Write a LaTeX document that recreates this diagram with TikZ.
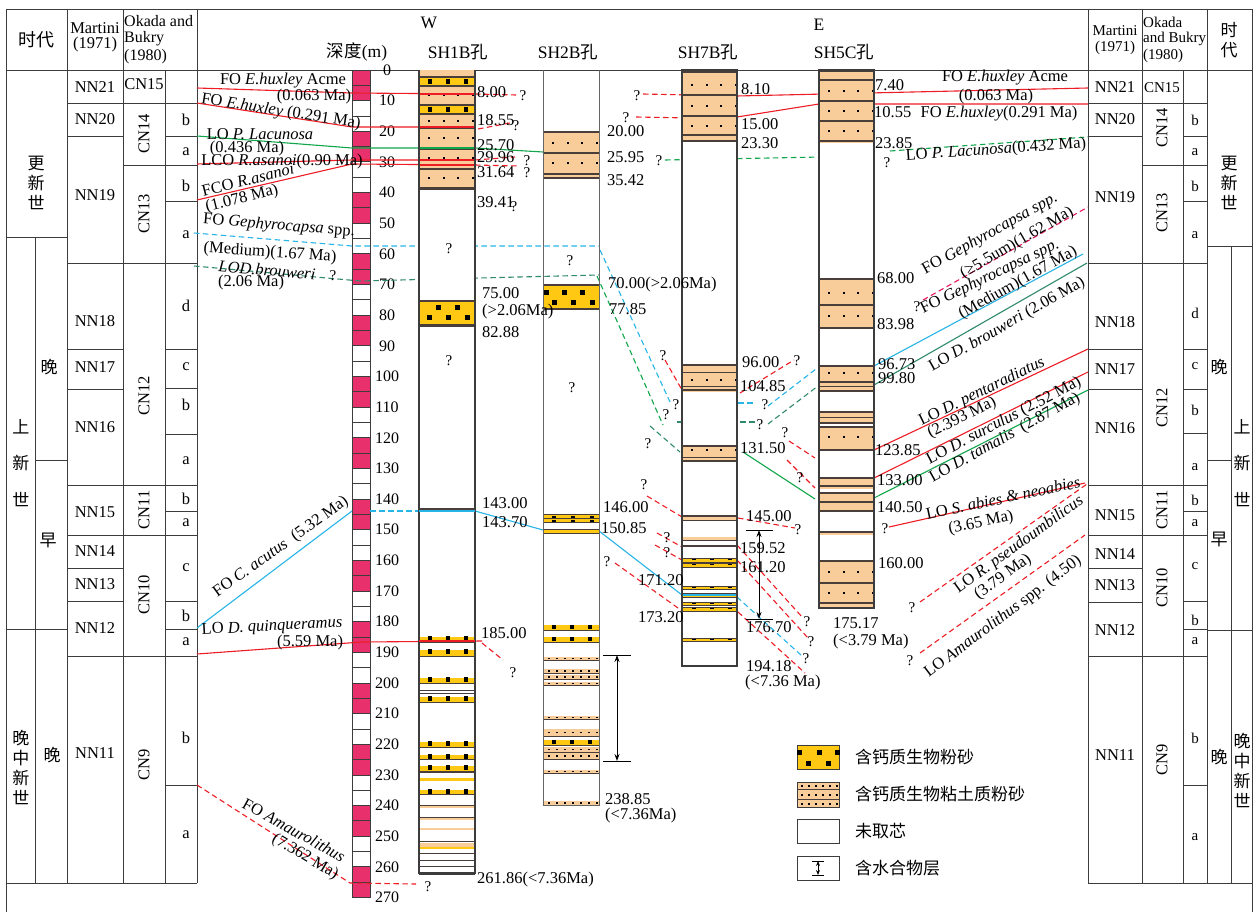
\documentclass[tikz,border=0pt]{standalone}
\usepackage{fontspec}
\setmainfont{Liberation Serif}
\newfontfamily\cjk{Noto Sans CJK SC}
\usetikzlibrary{arrows.meta}
\definecolor{lred}{HTML}{EE1D25}
\definecolor{lgreen}{HTML}{10A64A}
\definecolor{lteal}{HTML}{2F8A6C}
\definecolor{lcyan}{HTML}{27B4E6}
\definecolor{lpink}{HTML}{E8306C}
\definecolor{lcrim}{HTML}{E8185E}
\definecolor{ltan}{HTML}{F9CD9A}
\definecolor{lyel}{HTML}{FFC813}
\definecolor{lgrid}{HTML}{3C3C3C}
\definecolor{lband}{HTML}{4A3E3A}
\newcommand\fA{\fontsize{16.5}{18}\selectfont}
\newcommand\fB{\fontsize{15}{17}\selectfont}
\newcommand\fH{\fontsize{17.5}{19}\selectfont}
\newcommand\fZ{\cjk\fontsize{17}{20}\selectfont}
\newcommand\tanB[4]{\fill[ltan] (#1,#3) rectangle (#2,#4);}
\newcommand\yelB[4]{\fill[lyel] (#1,#3) rectangle (#2,#4);}
\newcommand\bandL[3]{\draw[bline] (#1,#3) -- (#2,#3);}
\newcommand\thinL[3]{\draw[tline] (#1,#3) -- (#2,#3);}
\newcommand\tanD[2]{\foreach \k in {0,1,2,3}{\fill ({#1+9+\k*14.5},{#2-1.2}) rectangle ++(2.4,2.4);}}
\newcommand\yelS[2]{\foreach \k in {0,1,2}{\fill ({#1+9+\k*18},{#2-2.2}) rectangle ++(4.4,4.4);}}
\begin{document}
\begin{tikzpicture}[x=1pt,y=-1pt,
  grid/.style={draw=lgrid,line width=0.9pt},
  bline/.style={draw=lband,line width=2pt},
  tline/.style={draw=lband,line width=1pt},
  t/.style={font=\fA,inner sep=0pt},
  tw/.style={font=\fA,inner sep=0pt,anchor=west},
  zh/.style={font=\fZ,inner sep=0pt},
  core/.style={draw=lgrid,line width=1.8pt},
  rl/.style={draw=lred,line width=1.1pt},
  rd/.style={draw=lred,line width=1.1pt,dash pattern=on 5.5pt off 3.5pt},
  gl/.style={draw=lgreen,line width=1.1pt},
  gd/.style={draw=lgreen,line width=1.1pt,dash pattern=on 5.5pt off 3.5pt},
  tl/.style={draw=lteal,line width=1.1pt},
  td/.style={draw=lteal,line width=1.1pt,dash pattern=on 5.5pt off 3.5pt},
  cl/.style={draw=lcyan,line width=1.1pt},
  cd/.style={draw=lcyan,line width=1.1pt,dash pattern=on 5.5pt off 3.5pt},
  kd/.style={draw=lcrim,line width=1.1pt,dash pattern=on 5.5pt off 3.5pt},
  hyd/.style={draw=black,line width=1pt,{Stealth[length=7pt,width=5pt]}-{Stealth[length=7pt,width=5pt]}}
]
\useasboundingbox (0,0) rectangle (1260,912);
\fill[white] (0,0) rectangle (1260,912);

% ---------- frame and zone columns ----------
\draw[grid] (6,9) -- (1252,9);
\draw[grid] (6,70) -- (1252,70);
\draw[grid] (6,9) -- (6,912);
\draw[grid] (1252,9) -- (1252,912);
\foreach \x in {67,123,197,1088,1142,1207} \draw[grid] (\x,9) -- (\x,883);
\draw[grid] (165,70) -- (165,883);
\draw[grid] (1183,70) -- (1183,883);
\draw[grid] (35,237) -- (35,883);
\draw[grid] (1231,246) -- (1231,883);
\draw[grid] (6,883) -- (197,883);
\draw[grid] (1088,883) -- (1252,883);
\draw[grid] (6,237) -- (67,237);
\draw[grid] (35,460) -- (67,460);
\draw[grid] (6,629) -- (67,629);
\foreach \y in {103,136,263,349,389,485,535,568,601,656} \draw[grid] (67,\y) -- (123,\y);
\foreach \y in {103,165,263,485,535,656} \draw[grid] (123,\y) -- (165,\y);
\foreach \y in {103,136,165,201,263,349,388,434,485,511,535,601,629,656,785} \draw[grid] (165,\y) -- (197,\y);
\foreach \y in {103,136,263,349,389,485,535,568,602,656} \draw[grid] (1088,\y) -- (1142,\y);
\foreach \y in {103,165,263,485,535,656} \draw[grid] (1142,\y) -- (1183,\y);
\foreach \y in {103,136,165,201,263,349,389,433,485,511,535,601,629,656,785} \draw[grid] (1183,\y) -- (1207,\y);
\draw[grid] (1207,246) -- (1252,246);
\draw[grid] (1207,460) -- (1231,460);
\draw[grid] (1207,630) -- (1252,630);

% ---------- header texts ----------
\node[zh,font=\cjk\fontsize{18}{20}\selectfont] (hL) at (36,40) {时代};
\node[t] (mL1) at (95,28) {Martini};
\node[t] (mL2) at (95,45) {(1971)};
\node[tw,font=\fontsize{16}{18}\selectfont] (oL1) at (124,21) {Okada and};
\node[tw,font=\fontsize{16}{18}\selectfont] (oL2) at (124,39) {Bukry};
\node[tw,font=\fontsize{16}{18}\selectfont] (oL3) at (124,57) {(1980)};
\node[t,font=\fB] (mR1) at (1115,31) {Martini};
\node[t,font=\fB] (mR2) at (1115,48) {(1971)};
\node[tw,font=\fB] (oR1) at (1143,22) {Okada};
\node[tw,font=\fB] (oR2) at (1143,39) {and Bukry};
\node[tw,font=\fB] (oR3) at (1143,56) {(1980)};
\node[zh] (hR1) at (1229,30) {时};
\node[zh] (hR2) at (1229,50) {代};
\node[t,font=\fH] (hW) at (429,23) {W};
\node[t,font=\fH] (hE) at (819,25) {E};
\node[t,font=\fH] (hD) at (357,52) {{\cjk 深度}(m)};
\node[t,font=\fH] (h1) at (458,52) {SH1B{\cjk 孔}};
\node[t,font=\fH] (h2) at (568,52) {SH2B{\cjk 孔}};
\node[t,font=\fH] (h7) at (708,52) {SH7B{\cjk 孔}};
\node[t,font=\fH] (h5) at (844,52) {SH5C{\cjk 孔}};

% ---------- epoch labels ----------
\node[zh,align=center,font=\cjk\fontsize{17}{20}\selectfont] (eL1) at (36,183) {更\\新\\世};
\node[zh] at (21,427) {上};
\node[zh] at (21,463) {新};
\node[zh] at (21,500) {世};
\node[zh] (eL3) at (49,367) {晚};
\node[zh] (eL4) at (48,540) {早};
\node[zh,align=center,font=\cjk\fontsize{17}{20}\selectfont] (eL5) at (21,767) {晚\\中\\新\\世};
\node[zh] (eL6) at (52,755) {晚};
\node[zh,align=center,font=\cjk\fontsize{17}{20}\selectfont] (eR1) at (1229,183) {更\\新\\世};
\node[zh] at (1242,427) {上};
\node[zh] at (1242,463) {新};
\node[zh] at (1242,500) {世};
\node[zh] (eR3) at (1219,367) {晚};
\node[zh] (eR4) at (1219,539) {早};
\node[zh,align=center,font=\cjk\fontsize{17}{20}\selectfont] (eR5) at (1242,770) {晚\\中\\新\\世};
\node[zh] (eR6) at (1219,757) {晚};

% ---------- zone labels ----------
\foreach \n/\y in {NN21/87,NN20/119,NN19/195,NN18/321,NN17/367,NN16/427,NN15/512,NN14/551,NN13/584,NN12/628,NN11/753}
  \node[t] at (95,\y) {\n};
\foreach \n/\y in {NN21/87,NN20/119,NN19/197,NN18/322,NN17/369,NN16/428,NN15/515,NN14/554,NN13/585,NN12/630,NN11/755}
  \node[t] at (1115,\y) {\n};
\node[t] at (144,84) {CN15};
\node[t,font=\fB] at (1162,88) {CN15};
\foreach \n/\y in {CN14/134,CN13/214,CN12/396,CN11/510,CN10/595,CN9/765}
  \node[t,rotate=90] at (144,\y) {\n};
\foreach \n/\y in {CN14/128,CN13/213,CN12/408,CN11/510,CN10/588,CN9/760}
  \node[t,rotate=90] at (1162,\y) {\n};
\foreach \n/\y in {b/120,a/152,b/186,a/235,d/306,c/367,b/405,a/461,b/499,a/523,c/568,b/616,a/642,b/738,a/835}
  \node[t] at (186,\y) {\n};
\foreach \n/\y in {b/120,a/152,b/186,a/235,d/313,c/366,b/410,a/467,b/500,a/523,c/566,b/620,a/641,b/738,a/837}
  \node[t,font=\fB] at (1195,\y) {\n};

% ---------- depth scale ----------
\foreach \d in {0,5,...,265}{
  \pgfmathtruncatemacro\qq{mod(floor(\d/10),2)}
  \ifnum\qq=0 \def\colq{lpink}\else\def\colq{white}\fi
  \filldraw[fill=\colq,draw=lgrid,line width=0.9pt] (352,{70+\d*3.065}) rectangle (370,{70+(\d+5)*3.065});
}
\foreach \d in {0,10,...,270} \node[t,font=\fontsize{16}{18}\selectfont] at (387,{70+\d*3.065}) {\d};

% ---------- correlation lines (under cores) ----------
% FO E.huxley Acme
\draw[rl] (197,88) -- (352,93) -- (475,94);
\draw[rd] (475,94) -- (516,95);
\draw[rd] (643,94) -- (690,95);
\draw[rl] (737,96) -- (1088,88);
% FO E.huxley
\draw[rl] (197,103) -- (352,127) -- (475,127);
\draw[rd] (478,129) -- (510,123);
\draw[rd] (636,117) -- (690,118);
\draw[rl] (737,117) -- (819,104) -- (1088,104);
% LO P. lacunosa
\draw[gl] (197,136) -- (352,148) -- (475,148) -- (543,152);
\draw[gd] (665,160) -- (874,156);
\draw[gd] (890,151) -- (1088,137);
% LCO / FCO R. asanoi
\draw[rl] (197,164) -- (352,160) -- (475,160);
\draw[rd] (475,160) -- (515,157);
\draw[rl] (197,200) -- (352,164) -- (475,165);
\draw[rd] (475,165) -- (518,166);
% FO Gephyrocapsa medium
\draw[cd] (194,233) -- (352,246) -- (599,246);
\draw[cd] (600,250) -- (670,402);
\draw[cd] (684,403) -- (755,403);
\draw[cd] (768,406) -- (816,369);
\draw[cl] (874,366) -- (1083,254);
% FO Gephyrocapsa >=5.5
\draw[kd] (923,300) -- (1088,207);
% LO D. brouweri
\draw[td] (194,266) -- (360,281) -- (599,275);
\draw[gd] (597,276) -- (663,425);
\draw[td] (677,422) -- (756,422);
\draw[td] (768,424) -- (818,386);
\draw[tl] (874,385) -- (1087,263);
\draw[td] (650,426) -- (680,452);
% tamalis
\draw[gl] (743,452) -- (815,499);
\draw[gl] (874,498) -- (1088,390);
% pentaradiatus
\draw[rd] (789,441) -- (815,458);
\draw[rl] (874,450) -- (1088,349);
% surculus
\draw[rd] (787,460) -- (815,488);
\draw[rl] (874,478) -- (1088,372);
% abies
\draw[rl] (889,527) -- (1085,483);
\draw[rd] (920,602) -- (1087,484);
\draw[rd] (920,653) -- (1085,535);
% misc SH7B
\draw[rd] (740,393) -- (794,360);
\draw[rd] (665,360) -- (682,390);
\draw[rd] (647,496) -- (682,517);
\draw[rd] (738,518) -- (795,528);
\draw[rd] (657,533) -- (682,547);
\draw[rd] (655,545) -- (682,560);
\draw[rd] (737,545) -- (803,618);
\draw[rd] (737,560) -- (808,638);
\draw[cd] (737,597) -- (802,656);
\draw[rd] (738,612) -- (805,673);
\draw[rd] (615,563) -- (685,613);
% acutus
\draw[cl] (197,628) -- (352,511);
\draw[cd] (370,511) -- (419,511);
\draw[cl] (419,511) -- (475,511) -- (543,530) -- (599,531) -- (682,595) -- (737,595);
% quinqueramus
\draw[rl] (197,654) -- (362,642) -- (482,641);
\draw[rd] (482,643) -- (503,660);
% FO Amaurolithus
\draw[rd] (197,785) -- (350,883) -- (416,884);

% ---------- SH1B ----------
\fill[white] (419,190) rectangle (475,873);
\tanB{419}{475}{70}{190}
\yelB{419}{475}{78}{85} \yelS{419}{81.5}
\yelB{419}{475}{106}{113} \yelS{419}{109.5}
\foreach \y in {77,86,105,114,128,149,169} {\bandL{419}{475}{\y}}
\draw[draw=lband,line width=3pt] (419,189) -- (475,189);
\tanD{419}{95} \tanD{419}{121} \tanD{419}{138} \tanD{419}{158} \tanD{419}{178}
\draw[gl] (419,148) -- (475,148);
\draw[rl] (419,94) -- (475,94); \draw[rl] (419,127) -- (475,127);
\draw[rl] (419,160) -- (475,160); \draw[rl] (419,165) -- (475,165);
\yelB{419}{475}{301}{325}
\bandL{419}{475}{301} \draw[draw=lband,line width=3pt] (419,325) -- (475,325);
\foreach \x in {436,455} \fill (\x,305) rectangle ++(4.5,4.5);
\foreach \x in {427,446,465} \fill (\x,315) rectangle ++(4.5,4.5);
\tanB{419}{475}{509}{512} \bandL{419}{475}{509}
\foreach \a/\b in {637/642,650/656,678/683,697/702,742/747,755/759,766/771,790/794} {
  \yelB{419}{475}{\a}{\b} \thinL{419}{475}{\b} \yelS{419}{\a+1.5}}
\yelB{419}{475}{778}{781}
\foreach \a/\b in {806/808,818/820,828/830,843/847} {\tanB{419}{475}{\a}{\b}}
\yelB{419}{475}{847}{849}
\foreach \y in {690,693,772,805,817,841,853,860,866} {\thinL{419}{475}{\y}}
\draw[draw=lgrid,line width=3pt] (419,873) -- (475,873);
\draw[core] (419,70) -- (419,874);
\draw[core] (475,70) -- (475,874);
\draw[rl] (419,641) -- (475,641);
\draw[cl] (419,511) -- (475,511);

% ---------- SH2B ----------
\tanB{543}{599}{131}{179}
\foreach \y in {132,153,174} {\bandL{543}{599}{\y}}
\draw[bline] (543,178) -- (599,178);
\tanD{543}{143} \tanD{543}{163}
\yelB{543}{599}{285}{309} \bandL{543}{599}{285} \bandL{543}{599}{309}
\foreach \x in {544,562,580} \fill (\x,290) rectangle ++(4.5,4.5);
\foreach \x in {552,571,590} \fill (\x,300) rectangle ++(4.5,4.5);
\yelB{543}{599}{514}{522} \yelB{543}{599}{529}{533}
\foreach \y in {514,518,522,529,533} {\thinL{543}{599}{\y}}
\foreach \x in {552,571,590} {\fill (\x,516) rectangle ++(4,1.6); \fill (\x,520) rectangle ++(4,1.6);}
\foreach \a/\b in {625/630,637/642,740/745} {\yelB{543}{599}{\a}{\b} \thinL{543}{599}{\b} \yelS{543}{\a+1.8}}
\foreach \a/\b in {657/660,669/673,675/679,682/685,716/719,729/736,747/752,753/759,770/773,801/805} {
  \tanB{543}{599}{\a}{\b} \draw[draw=lband,line width=0.6pt] (543,\b) -- (599,\b);
  \foreach \x in {548,556,...,596} \fill (\x,{(\a+\b)/2-0.6}) rectangle ++(1.5,1.5);}
\draw[draw=gray!80!black,line width=1pt] (543,70) -- (543,805) -- (599,805) -- (599,70);
\draw[hyd] (617,655) -- (617,761);
\draw[line width=1pt] (603,655) -- (631,655);
\draw[line width=1pt] (603,761) -- (631,761);

% ---------- SH7B ----------
\fill[white] (682,142) rectangle (737,666);
\tanB{682}{737}{70}{142}
\foreach \y in {72,95,116,135,141} {\bandL{682}{737}{\y}}
\tanD{682}{85} \tanD{682}{106} \tanD{682}{126}
\tanB{682}{737}{364}{392}
\foreach \y in {365,390} {\bandL{682}{737}{\y}} \thinL{682}{737}{372} \thinL{682}{737}{386}
\tanD{682}{380}
\tanB{682}{737}{446}{461}
\bandL{682}{737}{446} \thinL{682}{737}{457} \bandL{682}{737}{461}
\tanD{682}{450}
\tanB{682}{737}{517}{520} \bandL{682}{737}{516} \thinL{682}{737}{520}
\tanB{682}{737}{537}{540} \thinL{682}{737}{540}
\bandL{682}{737}{546}
\foreach \a/\b in {558/562,563/567,586/589,593/597,602/605,607/611,638/641} {
  \yelB{682}{737}{\a}{\b} \thinL{682}{737}{\a} \thinL{682}{737}{\b}
  \foreach \x in {692,710,728} \fill (\x,{\a+0.8}) rectangle ++(4,1.6);}
\draw[cl] (682,595) -- (737,595);
\draw[core] (682,70) rectangle (737,666);
\draw[hyd] (759,530) -- (759,619);
\draw[line width=1pt] (746,530) -- (773,530);
\draw[line width=1pt] (746,619) -- (773,619);

% ---------- SH5C ----------
\fill[white] (819,143) rectangle (874,607);
\tanB{819}{874}{70}{143}
\foreach \y in {71,80,101,121,141} {\bandL{819}{874}{\y}}
\tanD{819}{91} \tanD{819}{111} \tanD{819}{131}
\tanB{819}{874}{278}{329}
\foreach \y in {279,305,328} {\bandL{819}{874}{\y}}
\tanD{819}{293} \tanD{819}{316}
\tanB{819}{874}{365}{392}
\bandL{819}{874}{366} \bandL{819}{874}{382} \thinL{819}{874}{386} \bandL{819}{874}{391}
\tanD{819}{373}
\tanB{819}{874}{412}{423}
\bandL{819}{874}{412} \thinL{819}{874}{417} \bandL{819}{874}{423}
\tanB{819}{874}{427}{450}
\bandL{819}{874}{427} \bandL{819}{874}{450}
\tanD{819}{437}
\tanB{819}{874}{478}{511}
\fill[white] (819,489) rectangle (874,493);
\foreach \y in {478,486,493,502,511} {\bandL{819}{874}{\y}}
\tanB{819}{874}{532}{535} \bandL{819}{874}{532}
\tanB{819}{874}{560}{607}
\foreach \y in {561,583,603} {\bandL{819}{874}{\y}}
\tanD{819}{572} \tanD{819}{593}
\draw[core] (819,70) rectangle (874,608);

% ---------- question marks ----------
\foreach \x/\y in {523/96,516/126,527/161,527/173,514/207,449/249,570/261,333/276,449/361,572/388,
  637/96,626/118,659/161,887/163,663/356,797/361,676/405,765/405,666/415,760/425,648/444,785/433,
  800/478,644/485,798/530,667/538,667/553,607/562,513/673,807/622,811/642,806/659,428/887,
  917/307,885/529,912/608,910/661}
  \node[t,font=\fB] at (\x,\y) {?};

% ---------- depth numbers ----------
\foreach \x/\y/\s in {477/92/8.00,477/120/18.55,477/145/25.70,477/157/29.96,477/172/31.64,477/202/39.41,
  482/293/75.00,482/312/(>2.06Ma),482/332/82.88,482/503/143.00,482/522/143.70,481/633/185.00,
  477/880/261.86(<7.36Ma),
  607/131/20.00,607/157/25.95,607/180/35.42,608/285/70.00(>2.06Ma),609/309/77.85,603/507/146.00,
  601/528/150.85,605/799/238.85,605/816/(<7.36Ma),638/580/171.20,638/617/173.20,
  741/89/8.10,741/124/15.00,741/143/23.30,742/362/96.00,740/386/104.85,740/448/131.50,746/516/145.00,
  740/548/159.52,740/567/161.20,746/627/176.70,746/666/194.18,745/683/(<7.36 Ma),
  875/85/7.40,874/112/10.55,875/143/23.85,877/278/68.00,877/324/83.98,878/364/96.73,878/378/99.80,
  875/450/123.85,877/480/133.00,877/507/140.50,878/563/160.00,833/623/175.17,833/642/(<3.79 Ma)}
  \node[tw] at (\x,\y) {\s};

% ---------- event labels, left ----------
\node[t] at (283,81) {FO \textit{E.huxley} Acme};
\node[t] at (314,97) {(0.063 Ma)};
\node[t,rotate=-8.8] at (281,112) {FO \textit{E.huxley} (0.291 Ma)};
\node[t] at (260,134) {LO \textit{P. Lacunosa}};
\node[t] at (247,149) {(0.436 Ma)};
\node[t] at (282,162) {LCO \textit{R.asanoi}(0.90 Ma)};
\node[t,rotate=14] at (248,180) {FCO \textit{R.asanoi}};
\node[t,rotate=14] at (242,199) {(1.078 Ma)};
\node[t,rotate=-4.6] at (279,226) {FO \textit{Gephyrocapsa} spp.};
\node[t,rotate=-4] at (270,253) {(Medium)(1.67 Ma)};
\node[t,rotate=-5] at (267,270) {\textit{LOD.brouweri}};
\node[t] at (251,283) {(2.06 Ma)};
\node[t,rotate=35.5] at (281,547) {FO \textit{C. acutus}\ \ (5.32 Ma)};
\node[t,rotate=3] at (272,627) {LO \textit{D. quinqueramus}};
\node[t] at (310,643) {(5.59 Ma)};
\node[t,rotate=-29] at (294,830) {FO \textit{Amaurolithus}};
\node[t,rotate=-31] at (305,857) {(7.362 Ma)};

% ---------- event labels, right ----------
\node[t] at (1005,78) {FO \textit{E.huxley} Acme};
\node[t] at (996,97) {(0.063 Ma)};
\node[t] at (999,114) {FO \textit{E.huxley}(0.291 Ma)};
\node[t,rotate=4] at (996,150) {LO \textit{P. Lacunosa}(0.432 Ma)};
\node[t,rotate=29] at (990,234) {FO \textit{Gephyrocapsa spp.}};
\node[t,rotate=30] at (1017,243) {(≥5.5um)(1.62 Ma)};
\node[t,rotate=26] at (990,277) {FO \textit{Gephyrocapsa spp.}};
\node[t,rotate=29] at (1018,283) {(Medium)(1.67 Ma)};
\node[t,rotate=29.5] at (1007,325) {LO \textit{D. brouweri} (2.06 Ma)};
\node[t,rotate=26] at (982,392) {LO \textit{D. pentaradiatus}};
\node[t,rotate=26] at (962,418) {(2.393 Ma)};
\node[t,rotate=27.5] at (1004,421) {LO \textit{D. surculus} (2.52 Ma)};
\node[t,rotate=29] at (1005,438) {LO \textit{D. tamalis}\ \ (2.87 Ma)};
\node[t,rotate=12] at (1003,498) {LO \textit{S. abies \& neoabies}};
\node[t,rotate=12] at (981,523) {(3.65 Ma)};
\node[t,rotate=36] at (1019,545) {LO \textit{R. pseudoumbilicus}};
\node[t,rotate=36] at (1003,577) {(3.79 Ma)};
\node[t,rotate=37] at (1003,617) {LO \textit{Amaurolithus} spp. (4.50)};

% ---------- legend ----------
\filldraw[fill=lyel,draw=lgrid,line width=1pt] (797,745) rectangle (839,769);
\foreach \x in {797,817,835} \fill (\x,750) rectangle ++(4.5,4.5);
\foreach \x in {806,826} \fill (\x,761) rectangle ++(4.5,4.5);
\filldraw[fill=ltan,draw=lgrid,line width=1pt] (797,782) rectangle (839,807);
\thinL{797}{839}{789} \thinL{797}{839}{799}
\foreach \yy in {785,794,803} {\foreach \x in {801,808,...,836} \fill (\x,\yy) rectangle ++(1.5,1.5);}
\draw[draw=lgrid,line width=1pt] (797,819) rectangle (839,843);
\draw[draw=lgrid,line width=1pt] (797,856) rectangle (839,880);
\draw[draw=black,line width=0.9pt,{Stealth[length=5pt,width=4pt]}-{Stealth[length=5pt,width=4pt]}] (818,861) -- (818,875);
\draw[line width=0.9pt] (812,861) -- (824,861);
\draw[line width=0.9pt] (812,875) -- (824,875);
\node[zh,anchor=west] (lg1) at (855,757) {含钙质生物粉砂};
\node[zh,anchor=west] (lg2) at (855,794) {含钙质生物粘土质粉砂};
\node[zh,anchor=west] (lg3) at (855,831) {未取芯};
\node[zh,anchor=west] (lg4) at (855,868) {含水合物层};
\end{tikzpicture}
\end{document}
